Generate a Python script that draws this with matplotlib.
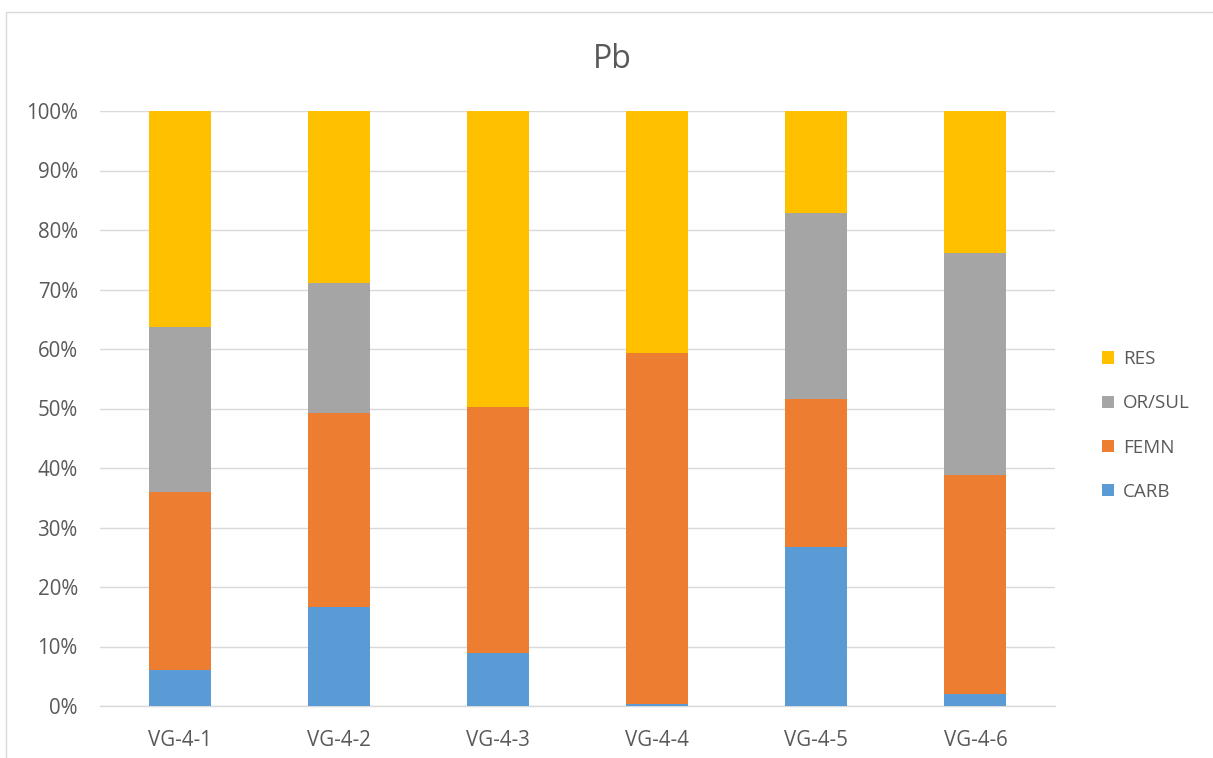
import matplotlib
matplotlib.use("Agg")
import matplotlib.pyplot as plt
from matplotlib.patches import Rectangle, Patch
import numpy as np

plt.rcParams['font.family'] = ['Open Sans', 'DejaVu Sans']

categories = ["VG-4-1", "VG-4-2", "VG-4-3", "VG-4-4", "VG-4-5", "VG-4-6"]
carb = [6.1, 16.6, 8.9, 0.3, 26.8, 2.0]
femn = [29.9, 32.7, 41.4, 59.0, 24.8, 36.9]
orsul = [27.7, 21.8, 0.0, 0.0, 31.3, 37.3]
res = [36.3, 28.9, 49.7, 40.7, 17.1, 23.8]

series_names = ["CARB", "FEMN", "OR/SUL", "RES"]
series_vals = [carb, femn, orsul, res]
colors = ["#5B9BD5", "#ED7D31", "#A5A5A5", "#FFC000"]

W, H = 1213, 758
fig = plt.figure(figsize=(W / 100, H / 100), dpi=100)
ax = fig.add_axes([100 / W, 1 - 706 / H, (1055 - 100) / W, (706 - 111) / H])

data = np.array(series_vals, dtype=float)
totals = data.sum(axis=0)
pct = data / totals * 100

x = np.arange(len(categories))
bottom = np.zeros(len(categories))
for name, vals, c in zip(series_names, pct, colors):
    ax.bar(x, vals, bottom=bottom, width=0.39, color=c, label=name, zorder=3)
    bottom += vals

ax.set_xlim(-0.5, len(categories) - 0.5)
ax.set_ylim(0, 100)
ax.set_yticks(np.arange(0, 101, 10))
ax.set_yticklabels([f"{v}%" for v in range(0, 101, 10)])
ax.set_xticks(x)
ax.set_xticklabels(categories)
ax.tick_params(axis='both', length=0, labelsize=14.8, colors='#595959')
ax.tick_params(axis='y', pad=16)
ax.tick_params(axis='x', pad=17)
ax.grid(axis='y', color='#D9D9D9', linewidth=1, zorder=0)
for s in ['top', 'right', 'left']:
    ax.spines[s].set_visible(False)
ax.spines['bottom'].set_color('#D9D9D9')
ax.spines['bottom'].set_linewidth(1)

fig.text(612 / W, 1 - 59 / H, "Pb", ha='center', va='center', fontsize=23, color='#595959')

handles = [Patch(facecolor=c) for c in colors][::-1]
labels = series_names[::-1]
leg = fig.legend(handles, labels, loc='center left', bbox_to_anchor=(1085 / W, 1 - 425.5 / H),
                 frameon=False, fontsize=13.5, labelcolor='#595959', handlelength=0.64,
                 handleheight=0.64, handletextpad=0.5, labelspacing=1.4)

fig.patches.append(Rectangle((6 / W, -0.05), 1.0, 1.05 - 12 / H, transform=fig.transFigure,
                             fill=False, edgecolor='#D9D9D9', linewidth=1))

fig.savefig("out.png", dpi=100)
